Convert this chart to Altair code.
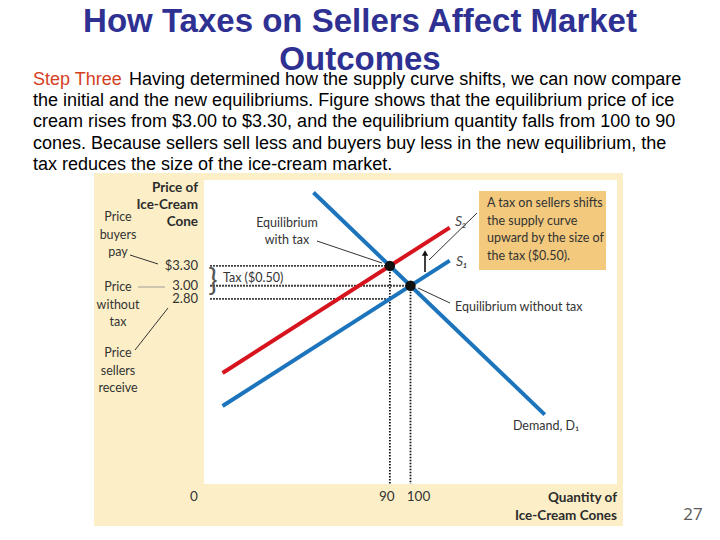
import altair as alt
import pandas as pd

# ---------------- data ----------------
demand_q = [53, 165]
demand_p = [4.41, 1.05]
s1_q = [9, 119]
s1_p = [1.18, 3.38]
s2_q = [9, 119]
s2_p = [1.68, 3.88]

eq_q = [90, 100]
eq_p = [3.30, 3.00]

price_ticks = [3.30, 3.00, 2.80]
price_labels = ["$3.30", "3.00", "2.80"]
qty_ticks = [0, 90, 100]
qty_labels = ["0", "90", "100"]

hguide_p = [3.30, 3.00, 2.80]
hguide_q0 = [3, 3, 3]
hguide_q1 = [90, 100, 90]
vguide_q = [90, 100]
vguide_p = [3.30, 3.00]

# ---------------- styling ----------------
W, H = 413, 304
FIG_FONT = "Lato, sans-serif"
SLIDE_FONT = "Liberation Sans, Arial, sans-serif"
RED = "#D7141E"
BLUE = "#1C75BC"
FS = 12.5      # regular figure text
FSB = 13.5     # bold figure text

xs = alt.Scale(domain=[0, 200], nice=False, zero=False)
ys = alt.Scale(domain=[0, 4.6], nice=False, zero=False)

one = pd.DataFrame({"a": [0]})


def txt(text, x, y, size=FS, align="left", baseline="middle", color="#333333",
        weight="normal", font=FIG_FONT, style="normal", lh=None):
    kw = dict(text=text, align=align, baseline=baseline, fontSize=size, color=color,
              fontWeight=weight, font=font, fontStyle=style)
    if lh is not None:
        kw["lineHeight"] = lh
    return alt.Chart(one).mark_text(**kw).encode(x=alt.value(x), y=alt.value(y))


def seg(x1, y1, x2, y2, color="#333333", width=1.0):
    return alt.Chart(one).mark_rule(color=color, strokeWidth=width).encode(
        x=alt.value(x1), y=alt.value(y1), x2=alt.value(x2), y2=alt.value(y2))


# backgrounds
beige = alt.Chart(one).mark_rect(color="#FCEFC7").encode(
    x=alt.value(-110), x2=alt.value(419), y=alt.value(-7), y2=alt.value(346))
white = alt.Chart(one).mark_rect(color="white").encode(
    x=alt.value(0), x2=alt.value(W), y=alt.value(0), y2=alt.value(H))

# curves
rows = []
for name, qs, ps in [("D", demand_q, demand_p), ("S1", s1_q, s1_p), ("S2", s2_q, s2_p)]:
    for i, (q, p) in enumerate(zip(qs, ps)):
        rows.append({"curve": name, "q": q, "p": p, "o": i})
curves_df = pd.DataFrame(rows)

axis_x = alt.Axis(labels=False, ticks=False, title=None, grid=False,
                  domainColor="#4d4d4d", domainWidth=2)
axis_y = alt.Axis(labels=False, ticks=False, title=None, grid=False,
                  domainColor="#9a8f78", domainWidth=1.5)

curves = alt.Chart(curves_df).mark_line(strokeWidth=4).encode(
    x=alt.X("q:Q", scale=xs, axis=axis_x),
    y=alt.Y("p:Q", scale=ys, axis=axis_y),
    color=alt.Color("curve:N", scale=alt.Scale(domain=["D", "S1", "S2"],
                                               range=[BLUE, BLUE, RED]), legend=None),
    order="o:Q",
    detail="curve:N",
)

# dotted guides
hg = pd.DataFrame({"p": hguide_p, "q0": hguide_q0, "q1": hguide_q1})
vg = pd.DataFrame({"q": vguide_q, "p": vguide_p, "p0": [0, 0]})
hguides = alt.Chart(hg).mark_rule(color="#111111", strokeWidth=1.8, strokeDash=[1.6, 1.4]).encode(
    x=alt.X("q0:Q", scale=xs, axis=None), x2="q1:Q", y=alt.Y("p:Q", scale=ys, axis=None))
vguides = alt.Chart(vg).mark_rule(color="#111111", strokeWidth=1.8, strokeDash=[1.6, 1.4]).encode(
    x=alt.X("q:Q", scale=xs, axis=None), y=alt.Y("p:Q", scale=ys, axis=None), y2="p0:Q")

eq = alt.Chart(pd.DataFrame({"q": eq_q, "p": eq_p})).mark_point(
    filled=True, size=110, color="#111111", opacity=1).encode(
    x=alt.X("q:Q", scale=xs, axis=None), y=alt.Y("p:Q", scale=ys, axis=None))

# tick labels
ylab = alt.Chart(pd.DataFrame({"p": price_ticks, "t": price_labels})).mark_text(
    align="right", baseline="middle", fontSize=13, color="#333333", font=FIG_FONT).encode(
    x=alt.value(-6), y=alt.Y("p:Q", scale=ys, axis=None), text="t:N")

xlab_layers = []
for q, t, dx in zip(qty_ticks, qty_labels, [-10, -3, 8]):
    xlab_layers.append(
        alt.Chart(pd.DataFrame({"q": [q], "t": [t]})).mark_text(
            align="center", baseline="middle", fontSize=13.5, color="#333333",
            font=FIG_FONT, dx=dx).encode(
            x=alt.X("q:Q", scale=xs, axis=None), y=alt.value(317), text="t:N"))

# annotation box
box = alt.Chart(one).mark_rect(color="#F2C97D").encode(
    x=alt.value(275), x2=alt.value(402), y=alt.value(11), y2=alt.value(90))

arrow_line = seg(221, 92, 221, 74, color="#111111", width=1.6)
arrow_head = alt.Chart(one).mark_point(shape="triangle-up", filled=True, size=40,
                                       color="#111111", opacity=1).encode(
    x=alt.value(221), y=alt.value(73))

annotations = [
    # slide title and paragraph
    txt(["How Taxes on Sellers Affect Market", "Outcomes"], 156, -158, size=33,
        align="center", color="#2E3192", weight="bold", font=SLIDE_FONT, lh=38),
    txt("Step Three", -171, -100, size=18, color="#D4401E", font=SLIDE_FONT),
    txt("Having determined how the supply curve shifts, we can now compare", -75, -100,
        size=18, color="#000000", font=SLIDE_FONT),
    txt(["the initial and the new equilibriums. Figure shows that the equilibrium price of ice",
         "cream rises from $3.00 to $3.30, and the equilibrium quantity falls from 100 to 90",
         "cones. Because sellers sell less and buyers buy less in the new equilibrium, the",
         "tax reduces the size of the ice-cream market."], -171, -88.5, size=18,
        color="#000000", font=SLIDE_FONT, baseline="top", lh=21.5),
    # axis titles
    txt(["Price of", "Ice-Cream", "Cone"], -6, 1, size=FSB, align="right",
        baseline="top", weight="bold", color="#2b2b2b", lh=17),
    txt(["Quantity of", "Ice-Cream Cones"], W, 311, size=FSB, align="right",
        baseline="top", weight="bold", color="#2b2b2b", lh=18),
    # left side notes
    txt(["Price", "buyers", "pay"], -86, 31, size=FS, align="center", baseline="top", lh=17.5),
    txt(["Price", "without", "tax"], -86, 101, size=FS, align="center", baseline="top", lh=17.5),
    txt(["Price", "sellers", "receive"], -86, 167, size=FS, align="center", baseline="top", lh=17.5),
    seg(-74, 75, -46, 84, width=1.0),
    seg(-66, 107, -39, 107, color="#888888", width=0.8),
    seg(-36, 128, -69, 170, width=1.0),
    # tax bracket
    txt("}", 9, 102, size=31, align="center", color="#555555", font=FIG_FONT,
        weight="normal"),
    txt("Tax ($0.50)", 19, 98, size=FS),
    # equilibrium with tax
    txt(["Equilibrium", "with tax"], 83, 37, size=FS, align="center", baseline="top", lh=17),
    seg(113, 61, 178, 83, width=1.0),
    # box text
    txt(["A tax on sellers shifts", "the supply curve", "upward by the size of",
         "the tax ($0.50)."], 283, 17, size=FS, baseline="top", lh=17.5),
    seg(273, 33, 225, 80, width=1.0),
    # curve labels
    txt("S₂", 251, 42, size=14, style="italic", color="#444444"),
    txt("S₁", 252, 82, size=14, style="italic", color="#444444"),
    txt("Equilibrium without tax", 251, 127, size=FS),
    seg(214, 108, 246, 123, width=1.0),
    txt("Demand, D₁", 342, 246, size=FS, align="center"),
    # page number
    txt("27", 489, 344, size=17, align="center", baseline="bottom", color="#595959",
        font="Open Sans, sans-serif"),
]

chart = alt.layer(
    beige, white, box, hguides, vguides, curves, eq, ylab, *xlab_layers,
    arrow_line, arrow_head, *annotations
).properties(
    width=W, height=H,
    autosize=alt.AutoSizeParams(type="none"),
    padding={"left": 196, "top": 172, "right": 90, "bottom": 44},
).configure_view(stroke=None).configure(background="white")

chart.save("out.html", embed_options={"renderer": "svg", "actions": False})
